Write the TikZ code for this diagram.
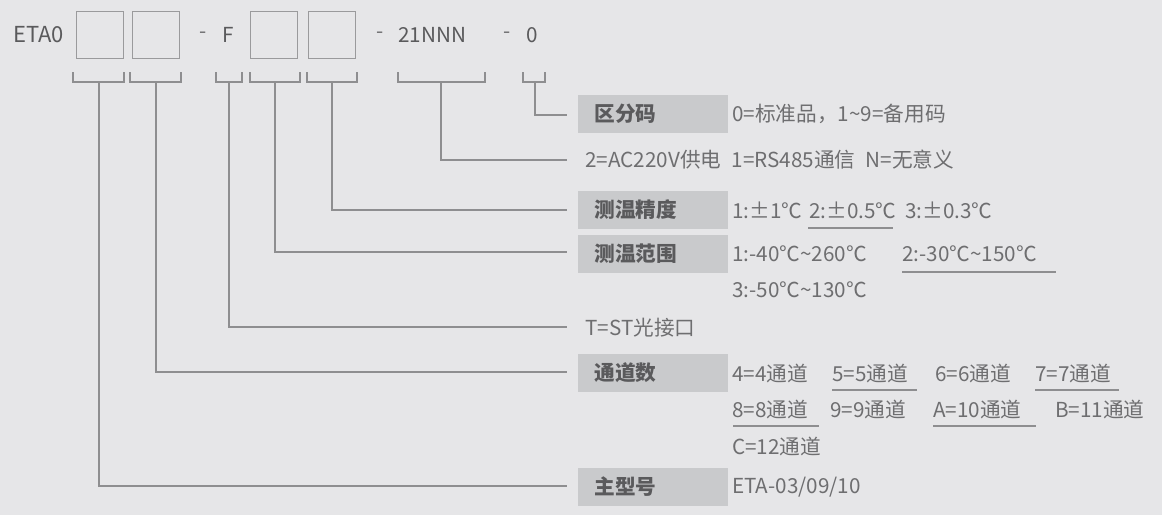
\documentclass[tikz,border=0pt]{standalone}
\usepackage{fontspec}
\setmainfont{Noto Sans CJK SC}
\begin{document}
\begin{tikzpicture}[x=0.75pt,y=-0.75pt,
  bg/.style={fill=bgc},
  txt/.style={inner sep=0pt,anchor=west,text=tc,font=\fontsize{15.5}{18}\selectfont},
  lbl/.style={fill=lc,minimum width=112.5pt,minimum height=28pt,inner sep=0pt,anchor=west,text=dc,font=\fontsize{15.5}{18}\selectfont\bfseries, text width=104pt,align=left},
  cbox/.style={draw=boxc,line width=1.2pt,minimum width=35pt,minimum height=35pt,inner sep=0pt},
  conn/.style={draw=linec,line width=1pt},
  ul/.style={draw=linec,line width=0.9pt}]
\definecolor{bgc}{HTML}{E6E6E8}
\definecolor{lc}{HTML}{C9CACC}
\definecolor{tc}{HTML}{6E6E70}
\definecolor{dc}{HTML}{5A5A5C}
\definecolor{boxc}{HTML}{9A9A9C}
\definecolor{linec}{HTML}{8E8E90}
\fill[bgc] (0,0) rectangle (1162,515);
\useasboundingbox (0,0) rectangle (1162,515);
% header
\node[txt,text=dc,font=\fontsize{16.5}{18}\selectfont] (eta) at (13,35) {ETA0};
\node[cbox] (c1) at (100,35) {};
\node[cbox] (c2) at (156,35) {};
\node[txt] (d1) at (199,35) {-};
\node[txt,text=dc] (f) at (222,35) {F};
\node[cbox] (c3) at (274,35) {};
\node[cbox] (c4) at (332,35) {};
\node[txt] (d2) at (376,35) {-};
\node[txt,text=dc] (n21) at (398,35) {21NNN};
\node[txt] (d3) at (503,35) {-};
\node[txt,text=dc] (z) at (526,35) {0};
% brackets
\foreach \a/\b in {73/124,130/181,216/242,250/300,307/357,398/485,523/545}
  \draw[conn] (\a,72) -- (\a,82) -- (\b,82) -- (\b,72);
% labels
\node[lbl] (l1) at (578,114) {\hspace*{8pt}区分码};
\node[txt] (v1) at (732,114) {0=标准品，1\textasciitilde 9=备用码};
\node[txt] (v2) at (585,160) {2=AC220V供电\enspace 1=RS485通信\enspace N=无意义};
\node[lbl] (l3) at (578,210) {\hspace*{8pt}测温精度};
\node[txt] at (732,210) {1:±1℃};
\node[txt] (a2) at (809,210) {2:±0.5℃};
\node[txt] at (905,210) {3:±0.3℃};
\node[lbl] (l4) at (578,254) {\hspace*{8pt}测温范围};
\node[txt] at (732,254) {1:-40℃\textasciitilde 260℃};
\node[txt] (r2) at (902,254) {2:-30℃\textasciitilde 150℃};
\node[txt] at (732,290) {3:-50℃\textasciitilde 130℃};
\node[txt] (v5) at (585,328) {T=ST光接口};
\node[lbl] (l6) at (578,373) {\hspace*{8pt}通道数};
\node[txt] at (732,373) {4=4通道};
\node[txt] (ch5) at (832,373) {5=5通道};
\node[txt] at (935,373) {6=6通道};
\node[txt] (ch7) at (1035,373) {7=7通道};
\node[txt] (ch8) at (732,409) {8=8通道};
\node[txt] at (830,409) {9=9通道};
\node[txt] (chA) at (933,409) {A=10通道};
\node[txt] at (1055,409) {B=11通道};
\node[txt] at (732,446) {C=12通道};
\node[lbl] (l7) at (578,487) {\hspace*{8pt}主型号};
\node[txt] at (732,487) {ETA-03/09/10};
% underlines
\draw[ul] (808,228) -- (893,228);
\draw[ul] (902,272) -- (1056,272);
\draw[ul] (832,390) -- (917,390);
\draw[ul] (1035,390) -- (1119,390);
\draw[ul] (733,426) -- (819,426);
\draw[ul] (933,426) -- (1036,426);
% connectors
\draw[conn] (535,82) |- (567,115);
\draw[conn] (441,82) |- (567,160);
\draw[conn] (332,82) |- (567,210);
\draw[conn] (275,82) |- (567,252);
\draw[conn] (229,82) |- (567,327);
\draw[conn] (156,82) |- (567,372);
\draw[conn] (99,82) |- (567,486);
\end{tikzpicture}
\end{document}
